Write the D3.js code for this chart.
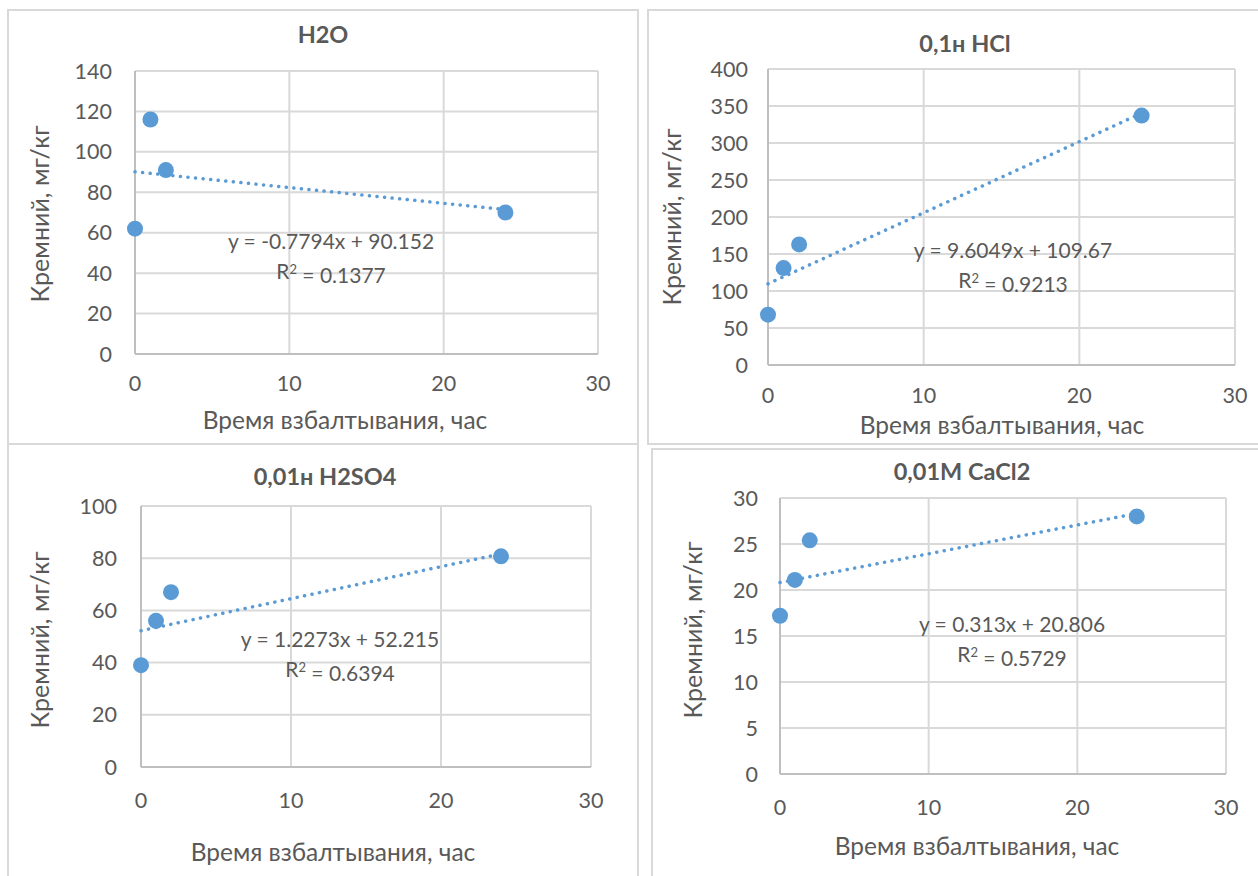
<!DOCTYPE html>
<html lang="ru">
<head>
<meta charset="UTF-8">
<title>Кремний</title>
<script src="https://d3js.org/d3.v7.min.js"></script>
<style>
    body { margin: 0; background: #fff; }
    svg text { font-family: Lato, "Open Sans", sans-serif; fill: #595959; }
    .grid line { stroke: #d9d9d9; stroke-width: 2; }
    .frame { fill: none; stroke: #d9d9d9; stroke-width: 2; }
</style>
</head>
<body>
<svg id="chart" width="1258" height="876"></svg>
<script>
// data
const hours = [0, 1, 2, 24];
const h2oValues = [62, 116, 91, 70];
const hclValues = [68, 131, 163, 337];
const h2so4Values = [39, 56, 67, 80.7];
const cacl2Values = [17.2, 21.1, 25.4, 28];

const titles = ["H2O", "0,1н HCl", "0,01н H2SO4", "0,01M CaCl2"];
const slopes = [-0.7794, 9.6049, 1.2273, 0.313];
const intercepts = [90.152, 109.67, 52.215, 20.806];
const r2Labels = ["0.1377", "0.9213", "0.6394", "0.5729"];
const yMaxes = [140, 400, 100, 30];
const ySteps = [20, 50, 20, 5];
const xTickValues = [0, 10, 20, 30];

const xLabel = "Время взбалтывания, час";
const yLabel = "Кремний, мг/кг";

// panel geometry (pixels)
const layout = [
    {frame: [8, 10, 638, 444], plot: [135, 71, 598, 354], title: [323, 35], yl: [40, 214], xl: [345, 420], eq: [331, 242], xtY: 383, ytX: 112},
    {frame: [648, 10, 1264, 444], plot: [768, 69, 1235, 365], title: [965, 44], yl: [672, 217], xl: [1002, 425], eq: [1013, 251], xtY: 395, ytX: 748},
    {frame: [8, 444, 638, 882], plot: [141, 506, 591, 767], title: [325, 477], yl: [40, 640], xl: [333, 852], eq: [340, 640], xtY: 800, ytX: 117},
    {frame: [652, 449, 1264, 882], plot: [780, 498, 1226, 774], title: [962, 472], yl: [693, 630], xl: [977, 846], eq: [1012, 625], xtY: 807, ytX: 758}
];

const series = [h2oValues, hclValues, h2so4Values, cacl2Values];
const svg = d3.select("#chart");

series.forEach((values, i) => {
    const L = layout[i];
    const g = svg.append("g");

    g.append("rect").attr("class", "frame")
        .attr("x", L.frame[0]).attr("y", L.frame[1])
        .attr("width", L.frame[2] - L.frame[0]).attr("height", L.frame[3] - L.frame[1]);

    const x = d3.scaleLinear().domain([0, 30]).range([L.plot[0], L.plot[2]]);
    const y = d3.scaleLinear().domain([0, yMaxes[i]]).range([L.plot[3], L.plot[1]]);
    const yTicks = d3.range(0, yMaxes[i] + ySteps[i] / 2, ySteps[i]);

    // gridlines
    const grid = g.append("g").attr("class", "grid");
    grid.selectAll(".h").data(yTicks).join("line")
        .attr("x1", L.plot[0]).attr("x2", L.plot[2])
        .attr("y1", d => y(d)).attr("y2", d => y(d));
    grid.selectAll(".v").data(xTickValues).join("line")
        .attr("y1", L.plot[1]).attr("y2", L.plot[3])
        .attr("x1", d => x(d)).attr("x2", d => x(d));

    // axis lines
    g.append("line").attr("x1", x(0)).attr("x2", x(0)).attr("y1", L.plot[1]).attr("y2", L.plot[3])
        .attr("stroke", "#bfbfbf").attr("stroke-width", 2);
    g.append("line").attr("x1", L.plot[0]).attr("x2", L.plot[2]).attr("y1", y(0)).attr("y2", y(0))
        .attr("stroke", "#bfbfbf").attr("stroke-width", 2);

    // tick labels
    g.selectAll(".yt").data(yTicks).join("text")
        .attr("x", L.ytX).attr("y", d => y(d)).attr("dy", "0.35em")
        .attr("text-anchor", "end").attr("font-size", 21.5)
        .text(d => d);
    g.selectAll(".xt").data(xTickValues).join("text")
        .attr("x", d => x(d)).attr("y", L.xtY).attr("dy", "0.35em")
        .attr("text-anchor", "middle").attr("font-size", 21.5)
        .text(d => d);

    // titles
    g.append("text").attr("x", L.title[0]).attr("y", L.title[1]).attr("dy", "0.35em")
        .attr("text-anchor", "middle").attr("font-size", 23.5).attr("font-weight", "bold")
        .text(titles[i]);
    g.append("text").attr("transform", `translate(${L.yl[0]},${L.yl[1]}) rotate(-90)`)
        .attr("dy", "0.35em").attr("text-anchor", "middle").attr("font-size", 25)
        .text(yLabel);
    g.append("text").attr("x", L.xl[0]).attr("y", L.xl[1]).attr("dy", "0.35em")
        .attr("text-anchor", "middle").attr("font-size", 24.5)
        .text(xLabel);

    // linear trendline (dotted)
    const xEnd = d3.max(hours);
    g.append("line")
        .attr("x1", x(0)).attr("y1", y(intercepts[i]))
        .attr("x2", x(xEnd)).attr("y2", y(intercepts[i] + slopes[i] * xEnd))
        .attr("stroke", "#5b9bd5").attr("stroke-width", 3.5)
        .attr("stroke-linecap", "round").attr("stroke-dasharray", "0.1 7.5");

    // points
    g.selectAll(".pt").data(hours.map((h, k) => [h, values[k]])).join("circle")
        .attr("cx", d => x(d[0])).attr("cy", d => y(d[1])).attr("r", 8)
        .attr("fill", "#5b9bd5");

    // equation label
    const sign = intercepts[i] < 0 ? "-" : "+";
    g.append("text").attr("x", L.eq[0]).attr("y", L.eq[1]).attr("dy", "0.35em")
        .attr("text-anchor", "middle").attr("font-size", 21)
        .text(`y = ${slopes[i]}x ${sign} ${Math.abs(intercepts[i])}`);
    const r = g.append("text").attr("x", L.eq[0]).attr("y", L.eq[1] + 30).attr("dy", "0.35em")
        .attr("text-anchor", "middle").attr("font-size", 21);
    r.append("tspan").text("R");
    r.append("tspan").attr("dy", "-0.45em").attr("font-size", 13).text("2");
    r.append("tspan").attr("dy", "0.45em").text(` = ${r2Labels[i]}`);
});
</script>
</body>
</html>
